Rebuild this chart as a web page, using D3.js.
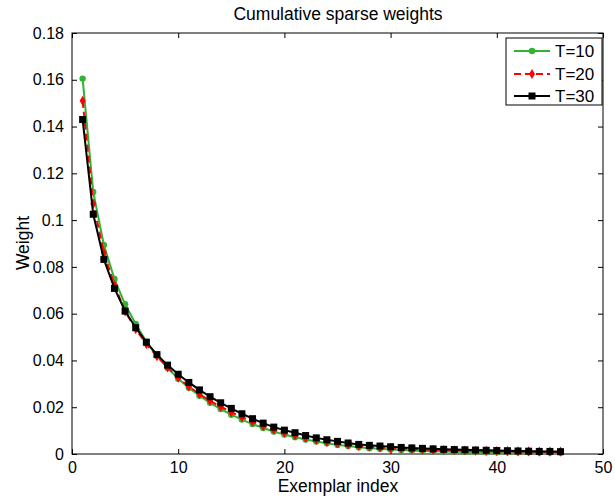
<!DOCTYPE html>
<html><head><meta charset="utf-8">
<script src="https://cdn.jsdelivr.net/npm/d3@7"></script>
<style>body{margin:0;background:#fff}svg{display:block}text{font-family:"Liberation Sans",Arial,sans-serif}</style>
</head><body><svg id="c" width="615" height="500"></svg>
<script>
const index = d3.range(1, 47);
const t10 = [0.1605,0.112,0.0894,0.0748,0.0640,0.0556,0.0480,0.0420,0.0368,0.0322,0.0283,0.0249,0.0219,0.0192,0.0168,0.0147,0.0128,0.0111,0.0096,0.0083,0.0072,0.0062,0.0053,0.0046,0.0039,0.0034,0.0029,0.0025,0.0022,0.0019,0.0017,0.0015,0.0013,0.0012,0.0011,0.0010,0.0009,0.0009,0.0008,0.0008,0.0007,0.0007,0.0007,0.0006,0.0006,0.0006];
const t20 = [0.151,0.107,0.086,0.0722,0.0610,0.0534,0.0470,0.0418,0.0370,0.0326,0.0289,0.0256,0.0228,0.0202,0.0179,0.0158,0.0138,0.0120,0.0104,0.0091,0.0080,0.0069,0.0060,0.0052,0.0045,0.0040,0.0035,0.0031,0.0028,0.0025,0.0023,0.0021,0.0019,0.0018,0.0017,0.0016,0.0015,0.0014,0.0013,0.0012,0.0012,0.0011,0.0011,0.0010,0.0010,0.0010];
const t30 = [0.143,0.1025,0.0832,0.0708,0.0611,0.0540,0.0478,0.0425,0.0380,0.0341,0.0306,0.0274,0.0245,0.0219,0.0195,0.0172,0.0151,0.0132,0.0115,0.0102,0.0091,0.0079,0.0069,0.0061,0.0054,0.0047,0.0041,0.0037,0.0034,0.0031,0.0028,0.0026,0.0024,0.0022,0.0020,0.0019,0.0018,0.0017,0.0016,0.0015,0.0014,0.0013,0.0012,0.0011,0.0011,0.0010];
const seriesNames = ["T=10","T=20","T=30"];
const xTicks = [0,10,20,30,40,50];
const yTicks = [0,0.02,0.04,0.06,0.08,0.1,0.12,0.14,0.16,0.18];

const svg = d3.select("#c");
const L=72,R=603,T=33,B=454;
const x = d3.scaleLinear().domain([0,50]).range([L,R]);
const y = d3.scaleLinear().domain([0,0.18]).range([B,T]);

svg.append("rect").attr("x",L).attr("y",T).attr("width",R-L).attr("height",B-T).attr("fill","none").attr("stroke","#000").attr("stroke-width",1);

const tk=5;
const gx = svg.append("g").attr("transform",`translate(0,${B})`).call(d3.axisBottom(x).tickValues(xTicks).tickSize(-tk).tickPadding(8).tickFormat(d3.format("d")));
const gxt = svg.append("g").attr("transform",`translate(0,${T})`).call(d3.axisTop(x).tickValues(xTicks).tickSize(-tk).tickFormat(""));
const gy = svg.append("g").attr("transform",`translate(${L},0)`).call(d3.axisLeft(y).tickValues(yTicks).tickSize(-tk).tickPadding(8).tickFormat(d=>d===0?"0":String(+d.toFixed(2))));
const gyr = svg.append("g").attr("transform",`translate(${R},0)`).call(d3.axisRight(y).tickValues(yTicks).tickSize(-tk).tickFormat(""));
[gx,gxt,gy,gyr].forEach(g=>{g.select(".domain").remove();g.selectAll("line").attr("stroke","#000");g.selectAll("text").attr("font-size",16).attr("fill","#000").style("font-family","Liberation Sans, Arial, sans-serif");});

svg.append("text").attr("x",338).attr("y",20).attr("text-anchor","middle").attr("font-size",17.5).text("Cumulative sparse weights");
svg.append("text").attr("x",338).attr("y",492).attr("text-anchor","middle").attr("font-size",17.5).text("Exemplar index");
svg.append("text").attr("transform","translate(29,243) rotate(-90)").attr("text-anchor","middle").attr("font-size",17.5).text("Weight");

const line = d3.line().x((d,i)=>x(index[i])).y(d=>y(d));
const green="#33b233", red="#ff0000", black="#000";

svg.append("path").datum(t10).attr("d",line).attr("fill","none").attr("stroke",green).attr("stroke-width",2);
svg.append("g").selectAll("circle").data(t10).join("circle").attr("cx",(d,i)=>x(index[i])).attr("cy",d=>y(d)).attr("r",3.2).attr("fill",green);
svg.append("path").datum(t20).attr("d",line).attr("fill","none").attr("stroke",red).attr("stroke-width",2).attr("stroke-dasharray","7,4");
const dia = d3.symbol().type(d3.symbolDiamond).size(30);
svg.append("g").selectAll("path").data(t20).join("path").attr("d",dia).attr("transform",(d,i)=>`translate(${x(index[i])},${y(d)})`).attr("fill",red);
svg.append("path").datum(t30).attr("d",line).attr("fill","none").attr("stroke",black).attr("stroke-width",2);
svg.append("g").selectAll("rect").data(t30).join("rect").attr("x",(d,i)=>x(index[i])-3.5).attr("y",d=>y(d)-3.5).attr("width",7).attr("height",7).attr("fill",black);

const lg = svg.append("g");
lg.append("rect").attr("x",506).attr("y",38).attr("width",96).attr("height",67).attr("fill","#fff").attr("stroke","#000").attr("stroke-width",1);
const ly=[51,74,96], cols=[green,red,black], dashes=[null,"7,4",null];
seriesNames.forEach((n,i)=>{
  lg.append("line").attr("x1",514).attr("x2",550).attr("y1",ly[i]).attr("y2",ly[i]).attr("stroke",cols[i]).attr("stroke-width",2).attr("stroke-dasharray",dashes[i]);
  if(i===0) lg.append("circle").attr("cx",532).attr("cy",ly[i]).attr("r",3.2).attr("fill",green);
  if(i===1) lg.append("path").attr("d",dia).attr("transform",`translate(532,${ly[i]})`).attr("fill",red);
  if(i===2) lg.append("rect").attr("x",528.5).attr("y",ly[i]-3.5).attr("width",7).attr("height",7).attr("fill",black);
  lg.append("text").attr("x",555).attr("y",ly[i]+6).attr("font-size",17).text(n);
});
</script></body></html>
